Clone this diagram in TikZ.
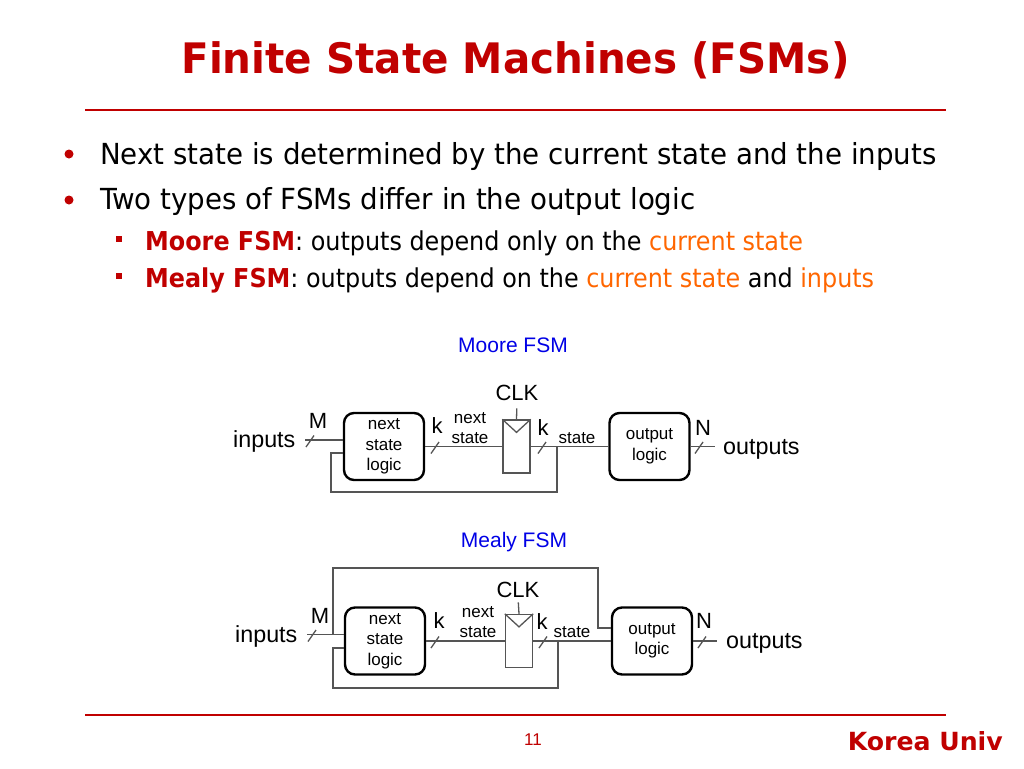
\documentclass[tikz,border=0pt]{standalone}
\usepackage{fontspec}
\setmainfont{Liberation Sans}
\newfontfamily\tahtitle[FakeStretch=1.07]{DejaVu Sans Condensed}
\newfontfamily\tahmain[FakeStretch=1.06]{DejaVu Sans Condensed}
\newfontfamily\tahsub[FakeStretch=1.02]{DejaVu Sans Condensed}
\newfontfamily\tahfoot[FakeStretch=1.12]{DejaVu Sans Condensed}
\usetikzlibrary{calc}
\definecolor{kred}{RGB}{192,0,0}
\definecolor{korange}{RGB}{255,102,0}
\definecolor{kblue}{RGB}{0,0,230}
\definecolor{wiregray}{RGB}{85,85,85}
\newcommand\busmark[2]{\draw[wire] (#1-4,#2+7) -- (#1+4,#2-4.5);}
\begin{document}
\begin{tikzpicture}[x=1pt,y=-1pt,
  lbl/.style={font=\fontsize{22}{26}\selectfont, inner sep=0pt, anchor=base},
  iolbl/.style={font=\fontsize{23.3}{26}\selectfont, inner sep=0pt, anchor=base west},
  sm/.style={font=\fontsize{17}{20}\selectfont, inner sep=0pt, align=center, anchor=base},
  lgbox/.style={draw, line width=2.4pt, rounded corners=10pt, minimum width=80pt, minimum height=67pt,
                font=\fontsize{17}{20.5}\selectfont, align=center, inner sep=0pt},
  regbox/.style={draw=wiregray, line width=1.3pt, minimum width=27pt, minimum height=53pt, inner sep=0pt},
  wire/.style={draw=wiregray, line width=1.3pt},
  bigtxt/.style={font=\tahmain\fontsize{29}{33}\selectfont, anchor=base west, inner sep=0pt},
  subtxt/.style={font=\tahsub\fontsize{26}{30}\selectfont, anchor=base west, inner sep=0pt},
  caption/.style={font=\fontsize{21}{24}\selectfont, text=kblue, anchor=base, inner sep=0pt}]
\fill[white] (0,0) rectangle (1024,768);
\useasboundingbox (0,0) rectangle (1024,768);

% header
\node[font=\tahtitle\bfseries\fontsize{42}{48}\selectfont, text=kred, anchor=base, inner sep=0pt] (title) at (515.5,73) {Finite State Machines (FSMs)};
\draw[kred, line width=2pt] (85,110) -- (946,110);

% bullets
\fill[kred] (69,154) circle (4.5pt);
\fill[kred] (69,200) circle (4.5pt);
\fill[kred] (116,236) rectangle (122,242);
\fill[kred] (116,273) rectangle (122,279);
\node[bigtxt] (l1) at (100,164) {Next state is determined by the current state and the inputs};
\node[bigtxt] (l2) at (100,209) {Two types of FSMs differ in the output logic};
\node[subtxt] (l3) at (145,250) {{\bfseries\color{kred}Moore FSM}: outputs depend only on the {\color{korange}current state}};
\node[subtxt] (l4) at (145,287) {{\bfseries\color{kred}Mealy FSM}: outputs depend on the {\color{korange}current state} and {\color{korange}inputs}};

% ---------------- Moore ----------------
\node[caption] (mcap) at (513,352) {Moore FSM};
\node[lgbox] (mnsl) at (384,446.5) {next\\state\\logic};
\node[regbox] (mreg) at (516.5,446.5) {};
\node[lgbox] (mout) at (649.5,446.5) {output\\logic};
\coordinate (min) at (305,440);
\coordinate (mo) at (715,446.5);
\coordinate (mj) at (557,446.5);
\draw[wire] (min) -- (min -| mnsl.west);
\draw[wire] (mnsl.east) -- (mreg.west);
\draw[wire] (mreg.east) -- (mout.west);
\draw[wire] (mout.east) -- (mo);
\draw[wire] (mj) -- (557,492) -- (331,492) -- (331,453) -- ($(mnsl.west)+(0,6.5)$);
\draw[wire] (mreg.north west) -- ($(mreg.north)+(0,13)$) -- (mreg.north east);
\node[lbl] (mclk) at (517,400) {CLK};
\draw[wire, shorten <=8pt] (mclk.south) -- (mreg.north);
\busmark{310}{440}
\busmark{435}{446.5}
\busmark{542}{446.5}
\busmark{699}{446.5}
\node[iolbl] (minl) at (233,447) {inputs};
\node[iolbl] (moutl) at (723,454) {outputs};
\node[lbl] (mM) at (318,428) {M};
\node[lbl] (mk1) at (437,433) {k};
\node[sm] (mns) at (470,443) {next\\state};
\node[lbl] (mk2) at (543,435) {k};
\node[sm] (mst) at (577,443) {state};
\node[lbl] (mN) at (703,435) {N};

% ---------------- Mealy ----------------
\node[caption] (ecap) at (514,547) {Mealy FSM};
\node[lgbox] (ensl) at (385,641) {next\\state\\logic};
\node[regbox] (ereg) at (519,641) {};
\node[lgbox] (eout) at (652,641) {output\\logic};
\coordinate (ein) at (307,634.5);
\coordinate (ej1) at (333,634.5);
\coordinate (eo) at (717,641);
\coordinate (ej2) at (558,641);
\draw[wire] (ein) -- (ein -| ensl.west);
\draw[wire] (ej1) -- (333,568) -- (598,568) -- (598,628) -- ($(eout.west)+(0,-13)$);
\draw[wire] (ensl.east) -- (ereg.west);
\draw[wire] (ereg.east) -- (eout.west);
\draw[wire] (eout.east) -- (eo);
\draw[wire] (ej2) -- (558,688) -- (333,688) -- (333,648) -- ($(ensl.west)+(0,7)$);
\draw[wire] (ereg.north west) -- ($(ereg.north)+(0,13)$) -- (ereg.north east);
\node[lbl] (eclk) at (518,597) {CLK};
\draw[wire, shorten <=5pt] (eclk.south) -- (ereg.north);
\busmark{312}{634.5}
\busmark{435}{641}
\busmark{543}{641}
\busmark{702}{641}
\node[iolbl] (einl) at (235,642) {inputs};
\node[iolbl] (eoutl) at (726,648) {outputs};
\node[lbl] (eM) at (320,623) {M};
\node[lbl] (ek1) at (439,628) {k};
\node[sm] (ens) at (478,637) {next\\state};
\node[lbl] (ek2) at (542,629) {k};
\node[sm] (est) at (572,637) {state};
\node[lbl] (eN) at (704,628) {N};

% footer
\draw[kred, line width=2pt] (85,715) -- (946,715);
\node[font=\fontsize{17}{20}\selectfont, text=kred, anchor=base, inner sep=0pt] (pg) at (533,745) {11};
\node[font=\tahfoot\bfseries\fontsize{25}{28}\selectfont, text=kred, anchor=base east, inner sep=0pt] (univ) at (1003,750) {Korea Univ};
\end{tikzpicture}
\end{document}
